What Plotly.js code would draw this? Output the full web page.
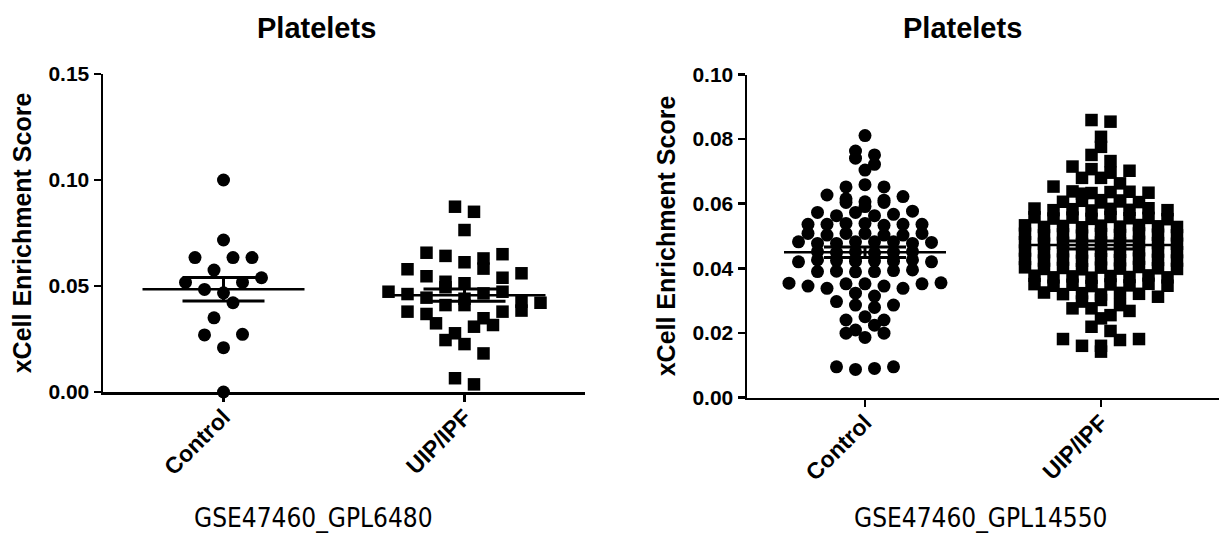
<!DOCTYPE html>
<html><head><meta charset="utf-8">
<script src="https://cdn.plot.ly/plotly-3.0.1.min.js"></script>
<style>html,body{margin:0;padding:0;background:#fff}#chart{width:1219px;height:536px}</style>
</head><body><div id="chart"></div>
<script>
// ---------- data ----------
const categories = ['Control', 'UIP/IPF'];
const panelTitles = ['Platelets', 'Platelets'];
const datasetLabels = ['GSE47460_GPL6480', 'GSE47460_GPL14550'];
const yTitle = 'xCell Enrichment Score';
const leftTickVals = [0, 0.05, 0.10, 0.15];
const leftTickText = ['0.00', '0.05', '0.10', '0.15'];
const rightTickVals = [0, 0.02, 0.04, 0.06, 0.08, 0.10];
const rightTickText = ['0.00', '0.02', '0.04', '0.06', '0.08', '0.10'];

const gpl6480Control = [0.100, 0.0717, 0.0634, 0.0575, 0.0634, 0.0634, 0.0517, 0.0484, 0.0468, 0.0517, 0.0539,
  0.0350, 0.0421, 0.0269, 0.0209, 0.0272, 0.000];
const gpl6480IPF = [0.0874, 0.0850, 0.0764, 0.0657, 0.0642, 0.0612, 0.0630, 0.0650,
  0.0579, 0.0546, 0.0520, 0.0513, 0.0582, 0.0539, 0.0560,
  0.0473, 0.0462, 0.0445, 0.0494, 0.0440, 0.0465, 0.0473,
  0.0426, 0.0379, 0.0368, 0.0410, 0.0410, 0.0421, 0.0348, 0.0379, 0.0384,
  0.0324, 0.0277, 0.0308, 0.0316, 0.0245, 0.0226, 0.0182, 0.0065, 0.0036];
const gpl14550Control = [0.0811, 0.0763, 0.0741, 0.0722, 0.0751, 0.0704,
  0.0652, 0.0659, 0.0652,
  0.0627, 0.0615, 0.0606, 0.0604, 0.0591, 0.0604, 0.0611, 0.0622,
  0.0573, 0.0563, 0.0573, 0.0563, 0.0567, 0.0577,
  0.0536, 0.0536, 0.0539, 0.0539, 0.0533, 0.0536, 0.0536,
  0.0508, 0.0503, 0.0508, 0.0508, 0.0503, 0.0503, 0.0508,
  0.0482, 0.0477, 0.0477, 0.0482, 0.0482, 0.0482, 0.0477, 0.0480,
  0.0452, 0.0449, 0.0451, 0.0448, 0.0450, 0.0452,
  0.0420, 0.0426, 0.0424, 0.0422, 0.0423, 0.0422, 0.0426, 0.0420,
  0.0390, 0.0391, 0.0389, 0.0390, 0.0393, 0.0395,
  0.0354, 0.0345, 0.0338, 0.0352, 0.0352, 0.0345, 0.0338, 0.0352, 0.0355,
  0.0323, 0.0314,
  0.0297, 0.0286, 0.0279, 0.0286,
  0.0240, 0.0250,
  0.0209, 0.0199, 0.0186, 0.0199, 0.0224, 0.0240,
  0.0095, 0.0087, 0.0090, 0.0095];
const gpl14550IPF = [0.0859, 0.0854, 0.0807, 0.0776, 0.0751, 0.0732, 0.0715, 0.0707, 0.0696, 0.0702,
  0.0680, 0.0680, 0.0653, 0.0663,
  0.0638, 0.0633, 0.0636, 0.0631, 0.0637, 0.0634,
  0.0611, 0.0606, 0.0609, 0.0604, 0.0610, 0.0607, 0.0605,
  0.0585, 0.0580, 0.0583, 0.0579, 0.0584, 0.0581, 0.0586, 0.0580,
  0.0558, 0.0554, 0.0557, 0.0553, 0.0559, 0.0555, 0.0556, 0.0552,
  0.0533, 0.0528, 0.0531, 0.0527, 0.0532, 0.0529, 0.0534, 0.0530, 0.0528,
  0.0507, 0.0502, 0.0505, 0.0501, 0.0506, 0.0503, 0.0508, 0.0504, 0.0502,
  0.0481, 0.0476, 0.0479, 0.0475, 0.0480, 0.0477, 0.0482, 0.0478, 0.0476,
  0.0455, 0.0450, 0.0453, 0.0449, 0.0454, 0.0451, 0.0456, 0.0452, 0.0450,
  0.0429, 0.0424, 0.0427, 0.0423, 0.0428, 0.0425, 0.0430, 0.0426, 0.0424,
  0.0403, 0.0398, 0.0401, 0.0397, 0.0402, 0.0399, 0.0404, 0.0400, 0.0398,
  0.0377, 0.0372, 0.0375, 0.0371, 0.0376, 0.0373, 0.0378, 0.0372,
  0.0351, 0.0346, 0.0349, 0.0345, 0.0350, 0.0347, 0.0352, 0.0346,
  0.0325, 0.0320, 0.0323, 0.0319, 0.0324, 0.0321,
  0.0312, 0.0297, 0.0302, 0.0286, 0.0276, 0.0276, 0.0255, 0.0268, 0.0245,
  0.0219, 0.0206, 0.0181, 0.0160, 0.0142, 0.0160, 0.0178, 0.0181];

// ---------- layout geometry ----------
const W = 1219, H = 536;
const FONT = 'Liberation Sans, Arial, sans-serif';
const panels = [
  {xd: [103 / W, 585 / W], yd: [(H - 392) / H, (H - 74) / H], yr: [0, 0.15], tv: leftTickVals, tt: leftTickText,
   groups: [gpl6480Control, gpl6480IPF], binH: 15.5, title: panelTitles[0], label: datasetLabels[0], labelX: 313, titleX: 316},
  {xd: [747 / W, 1219 / W], yd: [(H - 397.5) / H, (H - 74.5) / H], yr: [0, 0.10], tv: rightTickVals, tt: rightTickText,
   groups: [gpl14550Control, gpl14550IPF], binH: 7, title: panelTitles[1], label: datasetLabels[1], labelX: 981, titleX: 962}
];
const XR = [-0.5, 1.5];
const SLOT = 19;         // horizontal spacing of points in a row (px)
const MEAN_HALF = 81;    // half length of mean line (px)
const SYMBOLS = ['circle', 'square'];
const SIZES = [13, 12.5];

function swarm(values, center, pxPerX, pxPerY, binH) {
  const idx = values.map((v, i) => i).sort((a, b) => values[b] - values[a]);
  const xs = new Array(values.length);
  let row = [], start = null;
  const flush = () => {
    row.sort((a, b) => a - b);
    const n = row.length;
    row.forEach((i, k) => { xs[i] = center + (k - (n - 1) / 2) * SLOT / pxPerX; });
    row = [];
  };
  idx.forEach(i => {
    const py = values[i] * pxPerY;
    if (start === null || start - py >= binH) { if (row.length) flush(); start = py; }
    row.push(i);
  });
  flush();
  return xs;
}
function stats(v) {
  const n = v.length, m = v.reduce((a, b) => a + b, 0) / n;
  const sd = Math.sqrt(v.reduce((a, b) => a + (b - m) * (b - m), 0) / (n - 1));
  return {mean: m, sem: sd / Math.sqrt(n)};
}

const traces = [];
const layout = {
  width: W, height: H, margin: {l: 0, r: 0, t: 0, b: 0},
  paper_bgcolor: '#fff', plot_bgcolor: '#fff', showlegend: false,
  annotations: []
};

panels.forEach((p, pi) => {
  const xa = pi === 0 ? 'x' : 'x2', ya = pi === 0 ? 'y' : 'y2';
  const pxPerX = (p.xd[1] - p.xd[0]) * W / (XR[1] - XR[0]);
  const pxPerY = (p.yd[1] - p.yd[0]) * H / (p.yr[1] - p.yr[0]);
  p.groups.forEach((vals, gi) => {
    const xs = swarm(vals, gi, pxPerX, pxPerY, p.binH);
    traces.push({type: 'scatter', mode: 'markers', x: xs, y: vals, xaxis: xa, yaxis: ya, cliponaxis: false,
      marker: {symbol: SYMBOLS[gi], size: SIZES[gi], color: '#000', line: {width: 0}}, hoverinfo: 'y'});
  });
  p.groups.forEach((vals, gi) => {
    const s = stats(vals);
    traces.push({type: 'scatter', mode: 'lines', x: [gi - MEAN_HALF / pxPerX, gi + MEAN_HALF / pxPerX],
      y: [s.mean, s.mean], xaxis: xa, yaxis: ya, line: {color: '#000', width: 2.5}, hoverinfo: 'skip'});
    traces.push({type: 'scatter', mode: 'markers', x: [gi], y: [s.mean], xaxis: xa, yaxis: ya,
      marker: {size: 2, color: '#000'}, hoverinfo: 'skip',
      error_y: {type: 'data', array: [s.sem], visible: true, color: '#000', thickness: 3, width: 41}});
  });
  const axSuffix = pi === 0 ? '' : '2';
  layout['xaxis' + axSuffix] = {
    domain: p.xd, range: XR, anchor: ya, tickvals: [0, 1], ticktext: categories, tickangle: -45,
    ticks: 'outside', ticklen: 7, tickwidth: 2.5, tickcolor: '#000', showline: true, linewidth: 2.5,
    linecolor: '#000', showgrid: false, zeroline: false, fixedrange: true, ticklabelstandoff: -7,
    tickfont: {family: FONT, size: 23, color: '#000', weight: 700}
  };
  layout['yaxis' + axSuffix] = {
    domain: p.yd, range: p.yr, anchor: xa, tickvals: p.tv, ticktext: p.tt,
    ticks: 'outside', ticklen: 7, tickwidth: 2.5, tickcolor: '#000', showline: true, linewidth: 2.5,
    linecolor: '#000', showgrid: false, zeroline: false, fixedrange: true,
    tickfont: {family: FONT, size: 21, color: '#000', weight: 700},
    title: {text: yTitle, standoff: 10, font: {family: FONT, size: 25, color: '#000', weight: 700}}
  };
  layout.annotations.push({text: p.title, xref: 'paper', yref: 'paper', x: p.titleX / W,
    y: (H - 28) / H, xanchor: 'center', yanchor: 'middle', showarrow: false,
    font: {family: FONT, size: 29, color: '#000', weight: 700}});
  layout.annotations.push({text: p.label, xref: 'paper', yref: 'paper', x: p.labelX / W, y: (H - 518) / H,
    xanchor: 'center', yanchor: 'middle', showarrow: false,
    font: {family: 'DejaVu Sans Condensed, DejaVu Sans, sans-serif', size: 26, color: '#000'}});
});

Plotly.newPlot('chart', traces, layout, {displayModeBar: false, staticPlot: true});
</script>
</body></html>
